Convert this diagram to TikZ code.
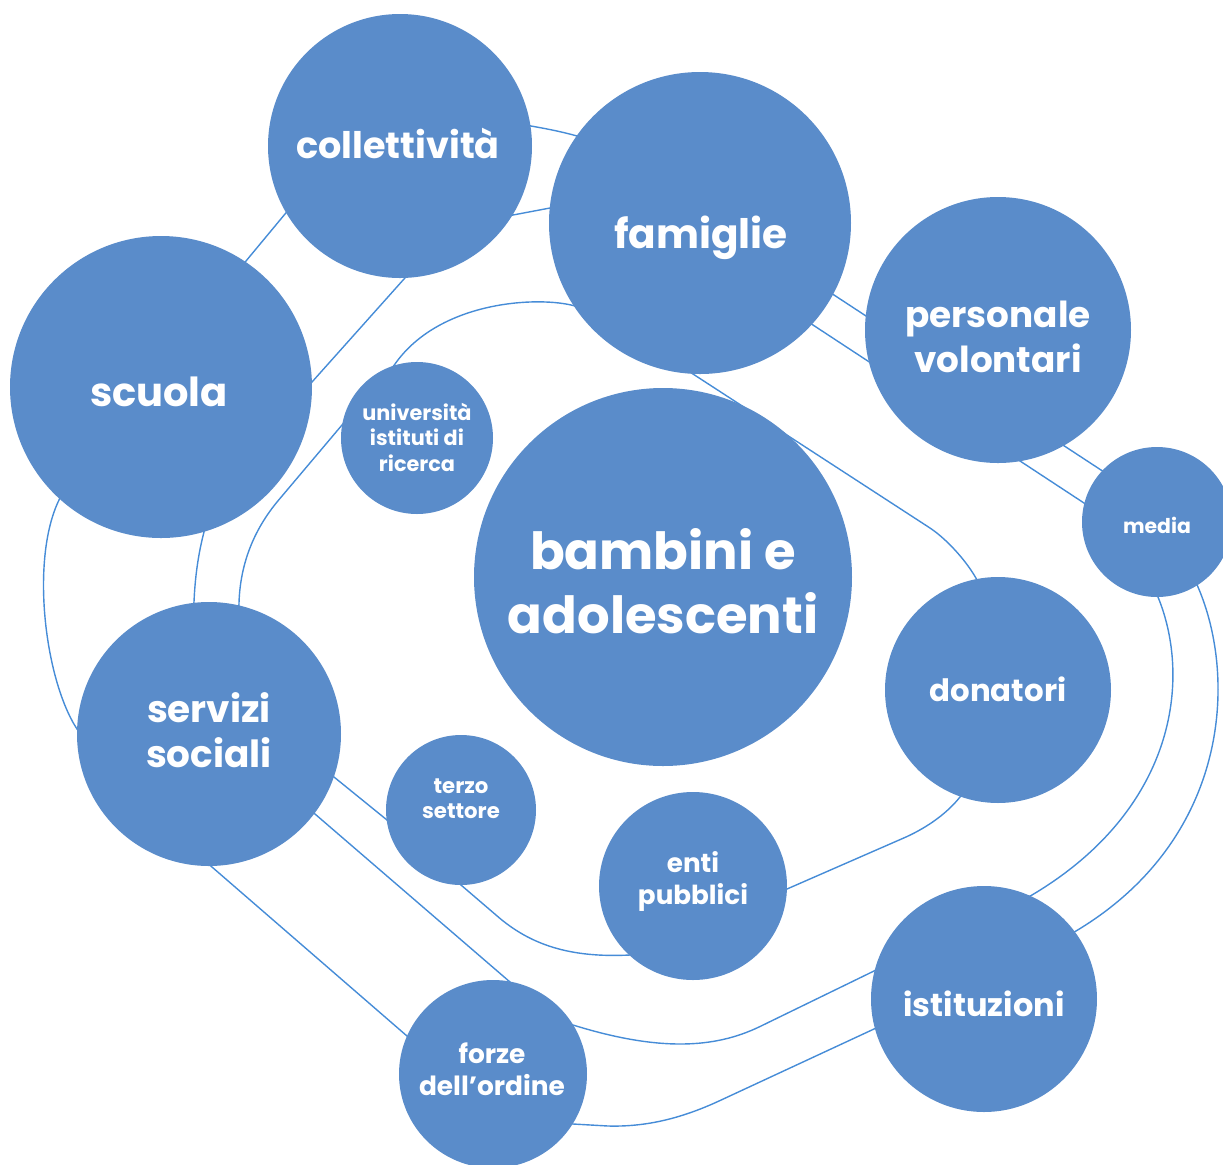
\documentclass[tikz,border=0pt]{standalone}
\usepackage{fontspec}
\setmainfont{Poppins}
\definecolor{bubc}{RGB}{90,140,202}
\definecolor{linc}{RGB}{70,140,215}
\begin{document}
\begin{tikzpicture}[x=0.5pt,y=-0.5pt,
  bub/.style={circle,fill=bubc,draw=none,inner sep=0pt,minimum size=#1},
  lab/.style={text=white,align=center,inner sep=0pt},
  ln/.style={draw=linc,line width=0.7pt,line join=round}]
\useasboundingbox (0,0) rectangle (1223,1164);
\clip (0,0) rectangle (1223,1164);
% ---- loop A (outer) ----
\draw[ln] (239.6,268.7) -- (246,261) -- (285,214) -- (291.4,206.3)
  -- (521,124) -- (531,126) .. controls (548,129) and (563,132) .. (577,136) -- (586,139)
  -- (826,290) -- (834,295) -- (1101,470) -- (1109,475)
  -- (1194,578) -- (1198,587) .. controls (1238,680) and (1228,840) .. (1076,931) -- (1067,936)
  -- (883,1025) -- (874,1029) -- (719,1101) .. controls (680,1119) and (645,1127) .. (608,1126) -- (573,1124) -- (564,1123.5)
  -- (415,1043) -- (407,1036) -- (212,867) -- (204,860)
  -- (82.5,737) -- (77,729) .. controls (45,680) and (30,560) .. (59,500) -- (63.4,491)
  -- cycle;
% ---- loop B (middle) ----
\draw[ln] (305,389.5) -- (312,382) -- (404,279) -- (411,271.5)
  -- (503,217) -- (513,215) -- (550,208) -- (560,206)
  -- (805,319.5) -- (813,325) -- (1084,503) -- (1092,508.5)
  -- (1154,588) -- (1158,597) .. controls (1192,680) and (1175,810) .. (1032,895) -- (1023,900)
  -- (883,966.6) -- (874,971) -- (759,1027) .. controls (715,1048) and (660,1052) .. (573,1025) -- (564,1022)
  -- (517.6,988.5) -- (510,982) -- (315,814) -- (307.4,807.5)
  -- (192.6,612) -- (194,602) .. controls (195,578) and (198,555) .. (204,532) -- (205.4,522)
  -- cycle;
% ---- loop C (inner) ----
\draw[ln] (584.6,308.7) -- (575,306) .. controls (540,296) and (440,300) .. (395,364) -- (389,372)
  -- (348.5,417.4) -- (342,425) -- (277,502) .. controls (250,535) and (240,570) .. (239,603) -- (238.7,613)
  -- (326,771) -- (334,777) -- (387,820) -- (395,826)
  -- (453,878) -- (461,885) -- (496,915) .. controls (530,945) and (570,958) .. (630,955) -- (640,954.5)
  -- (778,893) -- (787,889) -- (906,837) .. controls (930,826) and (948,812) .. (960,797) -- (966,789)
  -- (981.7,589) -- (977,580) .. controls (968,563) and (948,540) .. (930,528) -- (693,374) -- (684.6,368.5)
  -- cycle;
% ---- bubbles ----
\node[bub=132pt] (coll) at (400,146) {};
\node[bub=151pt] (fam) at (700,223) {};
\node[bub=133pt] (pers) at (998,330) {};
\node[bub=151pt] (scuola) at (161,387) {};
\node[bub=76pt] (univ) at (417,438) {};
\node[bub=189pt] (bamb) at (663,577) {};
\node[bub=75pt] (media) at (1157,522) {};
\node[bub=113pt] (don) at (998,690) {};
\node[bub=132pt] (serv) at (209,734) {};
\node[bub=75pt] (terzo) at (461,810) {};
\node[bub=94pt] (enti) at (693,886) {};
\node[bub=113pt] (ist) at (984,999) {};
\node[bub=94pt] (forze) at (493,1074) {};
% ---- labels ----
\node[lab,anchor=base,font=\fontsize{18.3}{22}\selectfont\bfseries] (tcoll) at (398,158) {collettività};
\node[lab,anchor=base,font=\fontsize{20.3}{25}\selectfont\bfseries] (tfam) at (701,248) {famiglie};
\node[lab,font=\fontsize{17.9}{22.5}\selectfont\bfseries] (tpers) at (998,337) {personale\\volontari};
\node[lab,anchor=base,font=\fontsize{20}{24}\selectfont\bfseries] (tscuola) at (159,406) {scuola};
\node[lab,font=\fontsize{10.4}{12.75}\selectfont\bfseries] (tuniv) at (417,437) {università\\istituti di\\ricerca};
\node[lab,font=\fontsize{25.6}{32}\selectfont\bfseries] (tbamb) at (663,581) {bambini e\\adolescenti};
\node[lab,anchor=base,font=\fontsize{10.2}{13}\selectfont\bfseries] (tmedia) at (1157,533) {media};
\node[lab,anchor=base,font=\fontsize{15.4}{19}\selectfont\bfseries] (tdon) at (998,701) {donatori};
\node[lab,font=\fontsize{18.7}{22.5}\selectfont\bfseries] (tserv) at (209,730) {servizi\\sociali};
\node[lab,font=\fontsize{10.6}{12.5}\selectfont\bfseries] (tterzo) at (461,799) {terzo\\settore};
\node[lab,font=\fontsize{13.1}{16}\selectfont\bfseries] (tenti) at (693,881) {enti\\pubblici};
\node[lab,anchor=base,font=\fontsize{16}{19}\selectfont\bfseries] (tist) at (984,1016) {istituzioni};
\node[lab,font=\fontsize{13.2}{16}\selectfont\bfseries] (tforze) at (492,1069) {forze\\dell’ordine};
\end{tikzpicture}
\end{document}
